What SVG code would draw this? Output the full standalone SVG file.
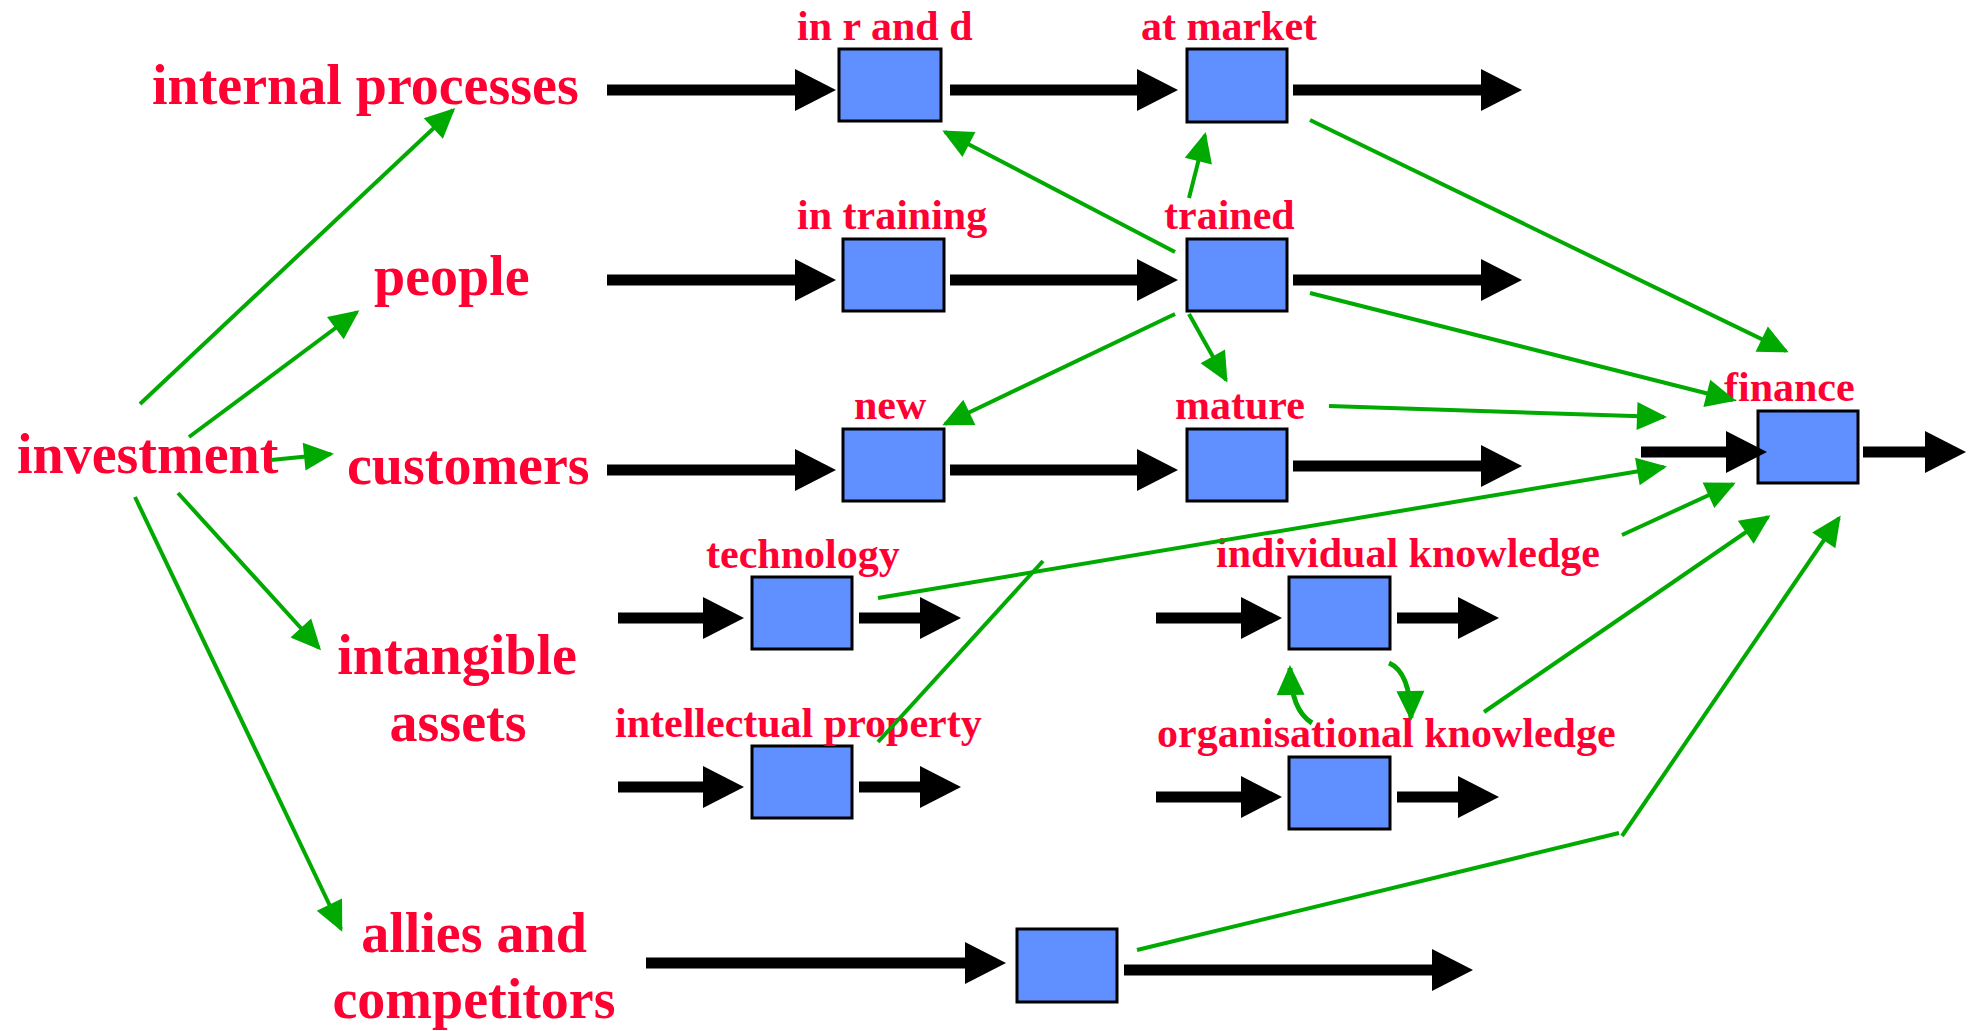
<svg xmlns="http://www.w3.org/2000/svg" width="1975" height="1031" viewBox="0 0 1975 1031">
<style>
.lbl{font-family:"Liberation Serif","Times New Roman",serif;font-weight:bold;fill:#ff0033}
.big{font-size:56px}
.sm{font-size:42px}
.box{fill:#6090ff;stroke:#000;stroke-width:3}
.flow{stroke:#000;stroke-width:11;fill:none;marker-end:url(#bk)}
.g{stroke:#00aa00;stroke-width:4;fill:none;marker-end:url(#gr)}
.gc{stroke:#00aa00;stroke-width:5;fill:none;marker-end:url(#gr)}
.gn{stroke:#00aa00;stroke-width:4;fill:none}
</style>
<defs>
<marker id="bk" markerUnits="userSpaceOnUse" markerWidth="42" markerHeight="44" refX="0" refY="21" orient="auto" overflow="visible">
<path d="M0,0 L41,21 L0,42 z" fill="#000"/>
</marker>
<marker id="gr" markerUnits="userSpaceOnUse" markerWidth="31" markerHeight="29" refX="27" refY="14" orient="auto" overflow="visible">
<path d="M0,0 L30,14 L0,28 z" fill="#00aa00"/>
</marker>
</defs>
<rect width="1975" height="1031" fill="#fff"/>

<g id="investment"><text class="lbl big" x="17" y="473">investment</text></g>
<g id="internal-processes"><text class="lbl big" x="152" y="104">internal processes</text></g>
<g id="people"><text class="lbl big" x="374" y="295">people</text></g>
<g id="customers"><text class="lbl big" x="347" y="484">customers</text></g>
<g id="intangible-assets"><text class="lbl big" text-anchor="middle" x="457" y="674">intangible</text><text class="lbl big" text-anchor="middle" x="458" y="741">assets</text></g>
<g id="allies-competitors"><text class="lbl big" text-anchor="middle" x="474" y="952">allies and</text><text class="lbl big" text-anchor="middle" x="474" y="1018">competitors</text></g>

<g id="in-r-and-d"><rect class="box" x="839" y="49" width="102" height="72"/><text class="lbl sm" x="797" y="40">in r and d</text></g>
<g id="at-market"><rect class="box" x="1187" y="49" width="100" height="73"/><text class="lbl sm" x="1141" y="40">at market</text></g>
<g id="in-training"><rect class="box" x="843" y="239" width="101" height="72"/><text class="lbl sm" x="797" y="229">in training</text></g>
<g id="trained"><rect class="box" x="1187" y="239" width="100" height="72"/><text class="lbl sm" x="1164" y="229">trained</text></g>
<g id="new"><rect class="box" x="843" y="429" width="101" height="72"/><text class="lbl sm" x="854" y="419">new</text></g>
<g id="mature"><rect class="box" x="1187" y="429" width="100" height="72"/><text class="lbl sm" x="1175" y="419">mature</text></g>
<g id="finance"><rect class="box" x="1758" y="411" width="100" height="72"/><text class="lbl sm" x="1724" y="401">finance</text></g>
<g id="technology"><rect class="box" x="752" y="577" width="100" height="72"/><text class="lbl sm" x="706" y="568">technology</text></g>
<g id="intellectual-property"><rect class="box" x="752" y="746" width="100" height="72"/><text class="lbl sm" x="615" y="737">intellectual property</text></g>
<g id="individual-knowledge"><rect class="box" x="1289" y="577" width="101" height="72"/><text class="lbl sm" x="1216" y="567">individual knowledge</text></g>
<g id="organisational-knowledge"><rect class="box" x="1289" y="757" width="101" height="72"/><text class="lbl sm" x="1157" y="747">organisational knowledge</text></g>
<g id="allies-box"><rect class="box" x="1017" y="929" width="100" height="73"/></g>

<g id="connectors">
<line class="flow" x1="607" y1="90" x2="795" y2="90"/>
<line class="flow" x1="950" y1="90" x2="1137" y2="90"/>
<line class="flow" x1="1293" y1="90" x2="1481" y2="90"/>
<line class="flow" x1="607" y1="280" x2="795" y2="280"/>
<line class="flow" x1="950" y1="280" x2="1137" y2="280"/>
<line class="flow" x1="1293" y1="280" x2="1481" y2="280"/>
<line class="flow" x1="607" y1="470" x2="795" y2="470"/>
<line class="flow" x1="950" y1="470" x2="1137" y2="470"/>
<line class="flow" x1="1293" y1="466" x2="1481" y2="466"/>
<line class="flow" x1="618" y1="618" x2="703" y2="618"/>
<line class="flow" x1="859" y1="618" x2="920" y2="618"/>
<line class="flow" x1="618" y1="787" x2="703" y2="787"/>
<line class="flow" x1="859" y1="787" x2="920" y2="787"/>
<line class="flow" x1="1156" y1="618" x2="1241" y2="618"/>
<line class="flow" x1="1397" y1="618" x2="1458" y2="618"/>
<line class="flow" x1="1156" y1="797" x2="1241" y2="797"/>
<line class="flow" x1="1397" y1="797" x2="1458" y2="797"/>
<line class="flow" x1="646" y1="963" x2="965" y2="963"/>
<line class="flow" x1="1124" y1="970" x2="1432" y2="970"/>
<line class="flow" x1="1641" y1="452" x2="1726" y2="452"/>
<line class="flow" x1="1863" y1="452" x2="1925" y2="452"/>

<line class="g" x1="140" y1="404" x2="453" y2="110"/>
<line class="g" x1="189" y1="437" x2="357" y2="312"/>
<line class="g" x1="271" y1="460" x2="331" y2="454"/>
<line class="g" x1="178" y1="493" x2="319" y2="648"/>
<line class="g" x1="135" y1="497" x2="341" y2="929"/>
<line class="g" x1="1175" y1="252" x2="945" y2="132"/>
<line class="g" x1="1189" y1="198" x2="1205" y2="135"/>
<line class="g" x1="1175" y1="314" x2="945" y2="424"/>
<line class="g" x1="1189" y1="314" x2="1226" y2="380"/>
<line class="g" x1="1310" y1="120" x2="1786" y2="351"/>
<line class="g" x1="1310" y1="293" x2="1733" y2="400"/>
<line class="g" x1="1329" y1="406" x2="1664" y2="417"/>
<line class="g" x1="878" y1="598" x2="1664" y2="467"/>
<line class="g" x1="1622" y1="535" x2="1733" y2="484"/>
<line class="g" x1="1484" y1="712" x2="1768" y2="517"/>
<line class="gn" x1="1137" y1="950" x2="1619" y2="833"/>
<line class="g" x1="1622" y1="836" x2="1839" y2="518"/>
<line class="gn" x1="878" y1="742" x2="1043" y2="561"/>
<path class="gc" d="M1312,723 Q1291,710 1290,668"/>
<path class="gc" d="M1389,663 Q1410,672 1411,718"/>
</g>
</svg>
